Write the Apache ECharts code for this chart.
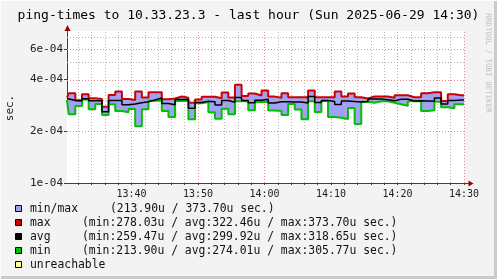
<!DOCTYPE html>
<html><head><meta charset="utf-8">
<script src="https://cdn.jsdelivr.net/npm/echarts@6/dist/echarts.min.js"></script>
<style>html,body{margin:0;padding:0;background:#f3f3f3;overflow:hidden}#c{width:497px;height:279px}</style>
</head><body><div id="c"></div>
<script>
// ---- data (values in microseconds, one per 1-minute RRD step) ----
const maxValues = [313.7, 332.7, 302.9, 328.3, 311.1, 308.3, 278.0, 325.2, 340.8, 308.3,
  304.2, 340.8, 314.5, 337.2, 337.2, 307.5, 310.3, 318.7, 313.7, 293.3,
  306.2, 317.9, 317.9, 311.1, 336.3, 314.5, 373.7, 320.9, 331.8, 323.1,
  345.0, 318.3, 313.7, 332.7, 315.4, 315.4, 315.4, 345.0, 315.4, 315.4,
  315.4, 340.4, 318.7, 332.2, 315.4, 310.3, 318.7, 318.7, 318.7, 313.3,
  323.9, 323.9, 315.4, 315.4, 332.7, 337.2, 337.2, 300.1, 328.3, 324.3,
  324.3];
const avgValues = [310.3, 302.1, 300.1, 309.1, 300.9, 300.9, 259.5, 302.1, 302.1, 285.2,
  288.3, 293.3, 297.3, 304.2, 312.4, 290.2, 285.6, 306.2, 306.2, 272.1,
  294.1, 299.3, 296.9, 284.4, 302.1, 294.9, 314.1, 302.1, 293.3, 302.9,
  307.4, 292.2, 296.9, 296.9, 296.1, 296.1, 292.2, 318.65, 294.1, 302.1,
  298.1, 286.4, 300.1, 298.1, 296.1, 298.1, 308.3, 308.3, 305.0, 300.9,
  307.0, 307.0, 300.1, 300.9, 300.1, 299.3, 312.4, 288.3, 302.1, 304.2,
  304.2];
const minValues = [304.2, 251.2, 280.7, 305.8, 268.9, 288.3, 248.8, 287.1, 262.5, 258.0,
  269.3, 213.9, 268.5, 301.3, 301.3, 262.5, 242.2, 300.1, 300.1, 234.9,
  291.0, 296.1, 258.3, 236.8, 270.7, 251.5, 298.9, 298.9, 265.0, 296.1,
  297.3, 264.3, 262.5, 248.8, 288.3, 267.8, 234.9, 298.9, 259.0, 300.1,
  242.2, 239.9, 235.8, 273.2, 220.5, 297.3, 293.3, 298.9, 298.9, 293.3,
  287.1, 281.8, 298.9, 298.9, 262.5, 265.0, 297.3, 275.8, 272.1, 287.1,
  287.1];
// time axis, minutes after 13:30
const axisStartMin = 0.3;
const axisEndMin = 60;
const firstStepMin = 0.555;
const timeLabelMinutes = [10, 20, 30, 40, 50, 60];
const timeLabels = ['13:40', '13:50', '14:00', '14:10', '14:20', '14:30'];
const minorTimeMinutes = [2, 4, 6, 8, 12, 14, 16, 18, 22, 24, 26, 28, 32, 34, 36, 38, 42, 44, 46, 48, 52, 54, 56, 58];
const yTickValues = [1e-4, 2e-4, 4e-4, 6e-4];
const yTickLabels = ['1e-04', '2e-04', '4e-04', '6e-04'];
const yMinorValues = [3e-4, 5e-4, 7e-4];
const yMin = 1e-4, yMax = 7.67e-4;
const legendNames = ['min/max', 'max', 'avg', 'min', 'unreachable'];
const legendStats = ['(213.90u / 373.70u sec.)',
  '(min:278.03u / avg:322.46u / max:373.70u sec.)',
  '(min:259.47u / avg:299.92u / max:318.65u sec.)',
  '(min:213.90u / avg:274.01u / max:305.77u sec.)', ''];
const legendColors = ['#a0a0f8', '#cc0000', '#000000', '#00c000', '#ffff99'];

// ---- build ----
const FONT = '"DejaVu Sans Mono", monospace';
const L = v => Math.log10(v);
const toLog = u => L(u * 1e-6);
const sampleStarts = [axisStartMin].concat(Array.from({length: maxValues.length - 1}, (_, k) => firstStepMin + k));
function stepData(vals) {
  const d = vals.map((v, j) => [sampleStarts[j], toLog(v)]);
  d.push([axisEndMin, toLog(vals[vals.length - 1])]);
  return d;
}
const G = {left: 67, right: 33, top: 31, bottom: 96};
const W = 497, H = 279;
const majorGrid = {color: '#e88a8a', width: 1, type: [1, 2]};
const minorGrid = {color: '#b4b4b4', width: 1, type: [1, 2]};
const gridLines = [];
timeLabelMinutes.forEach(m => gridLines.push({xAxis: m, lineStyle: majorGrid}));
minorTimeMinutes.forEach(m => gridLines.push({xAxis: m, lineStyle: minorGrid}));
yTickValues.slice(1).forEach(v => gridLines.push({yAxis: L(v), lineStyle: majorGrid}));
yMinorValues.forEach(v => gridLines.push({yAxis: L(v), lineStyle: minorGrid}));

const lineBase = {type: 'line', step: 'end', symbol: 'none', animation: false, silent: true};
const option = {
  backgroundColor: '#f3f3f3',
  animation: false,
  title: {text: 'ping-times to 10.33.23.3 - last hour (Sun 2025-06-29 14:30)', left: 'center', top: 4,
    textStyle: {fontFamily: FONT, fontSize: 13, fontWeight: 'normal', color: '#000'}},
  grid: {left: G.left, right: G.right, top: G.top, bottom: G.bottom, show: true, backgroundColor: '#fff', borderWidth: 0},
  xAxis: {type: 'value', min: axisStartMin, max: axisEndMin,
    axisLine: {show: true, lineStyle: {color: '#404040', width: 1}},
    axisTick: {show: true, customValues: minorTimeMinutes.concat(timeLabelMinutes), length: 2, lineStyle: {color: '#404040'}},
    axisLabel: {customValues: timeLabelMinutes, margin: 6, fontFamily: FONT, fontSize: 10, color: '#222',
      formatter: v => timeLabels[timeLabelMinutes.indexOf(Math.round(v))] || ''},
    splitLine: {show: false}},
  yAxis: {type: 'value', min: L(yMin), max: L(yMax),
    axisLine: {show: true, lineStyle: {color: '#404040', width: 1}},
    axisTick: {show: true, customValues: yTickValues.map(L), length: 3, lineStyle: {color: '#404040'}},
    axisLabel: {customValues: yTickValues.map(L), margin: 4, fontFamily: FONT, fontSize: 11, color: '#222',
      formatter: v => {
        const i = yTickValues.findIndex(t => Math.abs(L(t) - v) < 1e-6);
        return i >= 0 ? yTickLabels[i] : '';
      }},
    splitLine: {show: false}},
  series: [
    Object.assign({}, lineBase, {name: 'maxArea', data: stepData(maxValues), z: 2,
      lineStyle: {width: 0, opacity: 0}, areaStyle: {color: legendColors[0], opacity: 1, origin: 'start'}}),
    Object.assign({}, lineBase, {name: 'minArea', data: stepData(minValues), z: 2,
      lineStyle: {width: 0, opacity: 0}, areaStyle: {color: '#ffffff', opacity: 1, origin: 'start'},
      markLine: {silent: true, symbol: 'none', z: 3, animation: false, label: {show: false}, data: gridLines}}),
    Object.assign({}, lineBase, {name: 'max', data: stepData(maxValues), z: 5, lineStyle: {color: '#cc0000', width: 2}}),
    Object.assign({}, lineBase, {name: 'min', data: stepData(minValues), z: 5, lineStyle: {color: '#00c000', width: 2}}),
    Object.assign({}, lineBase, {name: 'avg', data: stepData(avgValues), z: 6, lineStyle: {color: '#000', width: 1.5}})
  ],
  graphic: []
};

const gr = [];
// axis arrows
const axBottom = H - G.bottom, axRight = W - G.right;
gr.push({type: 'line', shape: {x1: axRight, y1: axBottom + 0.5, x2: axRight + 5, y2: axBottom + 0.5}, style: {stroke: '#404040', lineWidth: 1}, z: 10});
gr.push({type: 'polygon', shape: {points: [[axRight + 9.5, axBottom + 0.5], [axRight + 4.5, axBottom - 2.5], [axRight + 4.5, axBottom + 3.5]]}, style: {fill: '#990000'}, z: 10});
gr.push({type: 'polygon', shape: {points: [[G.left + 0.5, G.top - 6], [G.left - 2.5, G.top], [G.left + 3.5, G.top]]}, style: {fill: '#990000'}, z: 10});
// y unit
gr.push({type: 'text', x: 10, y: 108, rotation: Math.PI / 2,
  style: {text: 'sec.', fontFamily: FONT, fontSize: 11, fill: '#222', align: 'center', verticalAlign: 'middle'}});
// watermark
gr.push({type: 'text', x: 488, y: 63, rotation: -Math.PI / 2,
  style: {text: 'RRDTOOL / TOBI OETIKER', fontFamily: FONT, fontSize: 7.5, fill: '#c0c0c0', align: 'center', verticalAlign: 'middle'}});
// legend
legendNames.forEach((n, i) => {
  const cy = 209 + 14 * i;
  gr.push({type: 'rect', shape: {x: 15.5, y: cy - 3.5, width: 6, height: 6}, style: {fill: legendColors[i], stroke: '#000', lineWidth: 1}});
  gr.push({type: 'text', x: 30, y: cy, style: {text: n, fontFamily: FONT, fontSize: 11.4, fill: '#111', verticalAlign: 'middle'}});
  if (legendStats[i]) gr.push({type: 'text', x: i === 0 ? 110 : 82, y: cy,
    style: {text: legendStats[i], fontFamily: FONT, fontSize: 11.4, fill: '#111', verticalAlign: 'middle'}});
});
// frame
gr.push({type: 'rect', shape: {x: 0, y: H - 3, width: W, height: 3}, style: {fill: '#cbcbcb'}});
gr.push({type: 'rect', shape: {x: W - 3, y: 0, width: 3, height: H}, style: {fill: '#cbcbcb'}});
gr.push({type: 'rect', shape: {x: 0, y: 0, width: W, height: 1}, style: {fill: '#fdfdfd'}});
gr.push({type: 'rect', shape: {x: 0, y: 0, width: 1, height: H}, style: {fill: '#fdfdfd'}});
option.graphic = gr;

const chart = echarts.init(document.getElementById('c'), null, {renderer: 'canvas', width: W, height: H});
chart.setOption(option);
</script></body></html>
